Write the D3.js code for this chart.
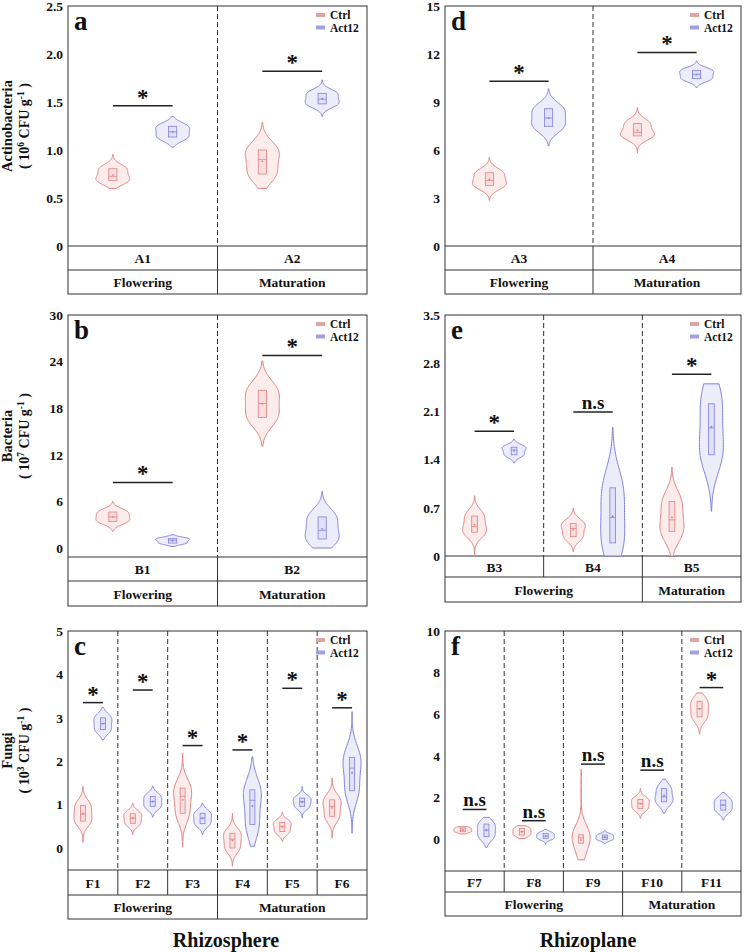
<!DOCTYPE html>
<html lang="en">
<head>
  <meta charset="UTF-8">
  <title>Violin plots</title>
  <script src="https://d3js.org/d3.v7.min.js"></script>
  <style>
    body { margin: 0; background: #fff; }
    text { font-family: "Liberation Serif", "Times New Roman", serif; font-weight: bold; fill: #111; }
  </style>
</head>
<body>
<script>
// ---- data ----
// each violin: 5 replicate values [min, q1, median, q3, max], and the drawn range [lo, hi]
const aGroups = ["A1", "A2"];
const aStages = ["Flowering", "Maturation"];
const aStageSpans = [1, 1];
const aTicks = [0, 0.5, 1, 1.5, 2, 2.5];
const aTickLabels = ["0", "0.5", "1.0", "1.5", "2.0", "2.5"];
const aCtrl = [[0.67, 0.684, 0.726, 0.805, 0.81], [0.74, 0.75, 0.90, 1.0, 1.02]];
const aCtrlRange = [[0.60, 0.955], [0.60, 1.29]];
const aAct = [[1.12, 1.135, 1.19, 1.247, 1.25], [1.47, 1.48, 1.53, 1.59, 1.60]];
const aActRange = [[1.03, 1.35], [1.35, 1.73]];
const aSig = [1.46, 1.82];
const aSigLabel = ["*", "*"];

const dGroups = ["A3", "A4"];
const dStages = ["Flowering", "Maturation"];
const dStageSpans = [1, 1];
const dTicks = [0, 3, 6, 9, 12, 15];
const dTickLabels = ["0", "3", "6", "9", "12", "15"];
const dCtrl = [[3.75, 3.79, 4.1, 4.58, 4.6], [6.85, 6.88, 7.1, 7.65, 7.7]];
const dCtrlRange = [[2.85, 5.56], [5.81, 8.65]];
const dAct = [[7.4, 7.48, 8.0, 8.58, 8.6], [10.4, 10.46, 10.73, 10.98, 11.0]];
const dActRange = [[6.25, 9.83], [9.9, 11.56]];
const dSig = [10.3, 12.1];
const dSigLabel = ["*", "*"];

const bGroups = ["B1", "B2"];
const bStages = ["Flowering", "Maturation"];
const bStageSpans = [1, 1];
const bTicks = [0, 6, 12, 18, 24, 30];
const bTickLabels = ["0", "6", "12", "18", "24", "30"];
const bCtrl = [[3.4, 3.43, 4.0, 4.63, 4.7], [16.7, 16.8, 18.6, 20.3, 20.5]];
const bCtrlRange = [[2.14, 6.0], [13.1, 24.1]];
const bAct = [[0.6, 0.64, 1.0, 1.2, 1.25], [0.8, 1.16, 2.27, 4.0, 4.1]];
const bActRange = [[0.2, 1.7], [0, 7.3]];
const bSig = [8.44, 24.8];
const bSigLabel = ["*", "*"];

const eGroups = ["B3", "B4", "B5"];
const eStages = ["Flowering", "Maturation"];
const eStageSpans = [2, 1];
const eTicks = [0, 0.7, 1.4, 2.1, 2.8, 3.5];
const eTickLabels = ["0", "0.7", "1.4", "2.1", "2.8", "3.5"];
const eCtrl = [[0.33, 0.345, 0.43, 0.58, 0.6], [0.27, 0.28, 0.40, 0.47, 0.48], [0.33, 0.355, 0.525, 0.79, 0.8]];
const eCtrlRange = [[0.02, 0.875], [0.063, 0.695], [0, 1.29]];
const eAct = [[1.46, 1.47, 1.54, 1.58, 1.59], [0.15, 0.19, 0.56, 0.99, 1.0], [1.45, 1.47, 1.86, 2.21, 2.4]];
const eActRange = [[1.35, 1.70], [0, 1.87], [0.65, 2.50]];
const eSig = [1.81, 2.09, 2.64];
const eSigLabel = ["*", "n.s", "*"];

const cGroups = ["F1", "F2", "F3", "F4", "F5", "F6"];
const cStages = ["Flowering", "Maturation"];
const cStageSpans = [3, 3];
const cTicks = [0, 1, 2, 3, 4, 5];
const cTickLabels = ["0", "1", "2", "3", "4", "5"];
const cCtrl = [[0.6, 0.62, 0.78, 0.98, 1.0], [0.55, 0.57, 0.69, 0.79, 0.8], [0.78, 0.80, 1.19, 1.38, 1.4],
               [-0.02, 0.0, 0.2, 0.34, 0.36], [0.36, 0.38, 0.5, 0.59, 0.6], [0.7, 0.73, 0.96, 1.11, 1.13]];
const cCtrlRange = [[0.13, 1.42], [0.31, 1.03], [0.02, 2.18], [-0.42, 0.80], [0.15, 0.83], [0.23, 1.61]];
const cAct = [[2.7, 2.73, 2.87, 3.0, 3.02], [0.94, 0.96, 1.07, 1.19, 1.2], [0.55, 0.56, 0.69, 0.80, 0.81],
              [0.5, 0.54, 1.1, 1.34, 1.36], [0.94, 0.96, 1.07, 1.15, 1.16], [1.3, 1.32, 1.84, 2.09, 2.12]];
const cActRange = [[2.5, 3.24], [0.71, 1.43], [0.31, 1.03], [0.04, 2.1], [0.69, 1.42], [0.34, 3.14]];
const cSig = [3.35, 3.64, 2.36, 2.26, 3.68, 3.23];
const cSigLabel = ["*", "*", "*", "*", "*", "*"];

const fGroups = ["F7", "F8", "F9", "F10", "F11"];
const fStages = ["Flowering", "Maturation"];
const fStageSpans = [3, 2];
const fTicks = [0, 2, 4, 6, 8, 10];
const fTickLabels = ["0", "2", "4", "6", "8", "10"];
const fCtrl = [[0.34, 0.35, 0.43, 0.53, 0.54], [0.18, 0.19, 0.35, 0.51, 0.52], [-0.8, -0.2, 0.06, 0.2, 0.5],
               [1.45, 1.47, 1.71, 1.9, 1.92], [5.85, 5.87, 6.27, 6.62, 6.64]];
const fCtrlRange = [[0.24, 0.59], [0.02, 0.64], [-1.0, 3.34], [0.99, 2.43], [5.04, 7.02]];
const fAct = [[0.1, 0.11, 0.43, 0.72, 0.74], [0.02, 0.03, 0.14, 0.27, 0.28], [-0.03, -0.02, 0.08, 0.19, 0.2],
              [1.77, 1.79, 2.03, 2.43, 2.45], [1.37, 1.39, 1.63, 1.87, 1.89]];
const fActRange = [[-0.4, 1.04], [-0.26, 0.46], [-0.24, 0.4], [1.23, 2.88], [0.91, 2.24]];
const fSig = [1.42, 0.88, 3.6, 3.31, 7.28];
const fSigLabel = ["n.s", "n.s", "n.s", "n.s", "*"];

const treatments = ["Ctrl", "Act12"];
const colors = { Ctrl: { line: "#e08080", fill: "#fcecec", key: "#e3a3a3" },
                 Act12: { line: "#8080dc", fill: "#ededfa", key: "#a0a0e2" } };

// ---- layout ----
const panels = [
  { letter: "a", x0: 68, x1: 367, top: 6, zeroY: 246, plotBottom: 246, row1: 270, row2: 294, hw: 17,
    title: ["Actinobacteria", "6"], groups: aGroups, stages: aStages, spans: aStageSpans, ticks: aTicks, tickLabels: aTickLabels,
    ctrl: aCtrl, ctrlRange: aCtrlRange, act: aAct, actRange: aActRange, sig: aSig, sigLabel: aSigLabel },
  { letter: "d", x0: 445, x1: 741, top: 6, zeroY: 246, plotBottom: 246, row1: 270, row2: 294, hw: 17,
    groups: dGroups, stages: dStages, spans: dStageSpans, ticks: dTicks, tickLabels: dTickLabels,
    ctrl: dCtrl, ctrlRange: dCtrlRange, act: dAct, actRange: dActRange, sig: dSig, sigLabel: dSigLabel },
  { letter: "b", x0: 68, x1: 367, top: 315, zeroY: 548, plotBottom: 557, row1: 581, row2: 606, hw: 17,
    title: ["Bacteria", "7"], groups: bGroups, stages: bStages, spans: bStageSpans, ticks: bTicks, tickLabels: bTickLabels,
    ctrl: bCtrl, ctrlRange: bCtrlRange, act: bAct, actRange: bActRange, sig: bSig, sigLabel: bSigLabel },
  { letter: "e", x0: 445, x1: 741, top: 315, zeroY: 556, plotBottom: 556, row1: 577, row2: 602, hw: 12,
    groups: eGroups, stages: eStages, spans: eStageSpans, ticks: eTicks, tickLabels: eTickLabels,
    ctrl: eCtrl, ctrlRange: eCtrlRange, act: eAct, actRange: eActRange, sig: eSig, sigLabel: eSigLabel },
  { letter: "c", x0: 68, x1: 367, top: 631, zeroY: 848, plotBottom: 870, row1: 895, row2: 919, hw: 9,
    title: ["Fungi", "3"], groups: cGroups, stages: cStages, spans: cStageSpans, ticks: cTicks, tickLabels: cTickLabels,
    ctrl: cCtrl, ctrlRange: cCtrlRange, act: cAct, actRange: cActRange, sig: cSig, sigLabel: cSigLabel },
  { letter: "f", x0: 445, x1: 741, top: 631, zeroY: 839, plotBottom: 871, row1: 892, row2: 916, hw: 9,
    groups: fGroups, stages: fStages, spans: fStageSpans, ticks: fTicks, tickLabels: fTickLabels,
    ctrl: fCtrl, ctrlRange: fCtrlRange, act: fAct, actRange: fActRange, sig: fSig, sigLabel: fSigLabel }
];

const svg = d3.select("body").append("svg")
  .attr("width", 744).attr("height", 952);

// gaussian kernel density over the drawn range
function density(samples, lo, hi) {
  const s = samples.slice().sort(d3.ascending);
  const bw = Math.max((hi - lo) / 9, (d3.quantile(s, 0.75) - d3.quantile(s, 0.25)) / 2.5);
  return d3.range(81).map(i => {
    const v = lo + (hi - lo) * i / 80;
    return [v, d3.mean(s, d => Math.exp(-0.5 * ((v - d) / bw) ** 2))];
  });
}

panels.forEach(p => {
  const g = svg.append("g");
  const y = d3.scaleLinear().domain([0, p.ticks[p.ticks.length - 1]]).range([p.zeroY, p.top]);
  const x = d3.scaleBand().domain(p.groups).range([p.x0, p.x1]);
  const inner = d3.scalePoint().domain(treatments).range([0, x.bandwidth()]).padding(0.75);

  // y axis labels
  const ax = g.append("g").attr("transform", `translate(${p.x0},0)`)
    .call(d3.axisLeft(y).tickValues(p.ticks).tickSize(0).tickPadding(5)
      .tickFormat((d, i) => p.tickLabels[i]));
  ax.select(".domain").remove();
  ax.selectAll("text").attr("font-size", 13.5).style("font-family", "Liberation Serif").style("font-weight", "bold");

  // dashed column dividers inside plot area
  p.groups.slice(1).forEach(grp => {
    g.append("line").attr("x1", x(grp)).attr("x2", x(grp))
      .attr("y1", p.top).attr("y2", p.plotBottom)
      .attr("stroke", "#333").attr("stroke-dasharray", "5,3");
    g.append("line").attr("x1", x(grp)).attr("x2", x(grp))
      .attr("y1", p.plotBottom).attr("y2", p.row1).attr("stroke", "#333");
  });
  // stage labels and dividers in bottom row
  let acc = 0;
  p.stages.forEach((st, i) => {
    const gs = p.groups[acc], ge = p.groups[acc + p.spans[i] - 1];
    const sx0 = x(gs), sx1 = x(ge) + x.bandwidth();
    g.append("text").attr("x", (sx0 + sx1) / 2).attr("y", (p.row1 + p.row2) / 2 + 5)
      .attr("text-anchor", "middle").attr("font-size", 13.5).text(st);
    if (i > 0) g.append("line").attr("x1", sx0).attr("x2", sx0)
      .attr("y1", p.row1).attr("y2", p.row2).attr("stroke", "#333");
    acc += p.spans[i];
  });
  // group labels
  g.selectAll(".grp").data(p.groups).join("text")
    .attr("x", d => x(d) + x.bandwidth() / 2).attr("y", (p.plotBottom + p.row1) / 2 + 5)
    .attr("text-anchor", "middle").attr("font-size", 13.5).text(d => d);

  // frame and row lines
  g.append("rect").attr("x", p.x0).attr("y", p.top).attr("width", p.x1 - p.x0).attr("height", p.row2 - p.top)
    .attr("fill", "none").attr("stroke", "#333");
  [p.plotBottom, p.row1].forEach(yy => g.append("line").attr("x1", p.x0).attr("x2", p.x1)
    .attr("y1", yy).attr("y2", yy).attr("stroke", "#333"));

  // violins
  const drawViolin = (samples, range, cx, tr) => {
    const dens = density(samples, range[0], range[1]);
    const dmax = d3.max(dens, d => d[1]);
    const w = d3.scaleLinear().domain([0, dmax]).range([0, p.hw]);
    const area = d3.area().x0(d => cx - w(d[1])).x1(d => cx + w(d[1])).y(d => y(d[0]));
    g.append("path").attr("d", area(dens)).attr("fill", colors[tr].fill)
      .attr("stroke", colors[tr].line).attr("stroke-width", 1);
    const s = samples.slice().sort(d3.ascending);
    const q1 = d3.quantile(s, 0.25), med = d3.quantile(s, 0.5), q3 = d3.quantile(s, 0.75);
    const bh = Math.max(2.5, p.hw * 0.24);
    g.append("rect").attr("x", cx - bh).attr("y", y(q3)).attr("width", bh * 2)
      .attr("height", Math.max(0.5, y(q1) - y(q3)))
      .attr("fill", colors[tr].line).attr("fill-opacity", 0.12)
      .attr("stroke", colors[tr].line).attr("stroke-width", 0.8);
    g.append("line").attr("x1", cx - bh).attr("x2", cx + bh).attr("y1", y(med)).attr("y2", y(med))
      .attr("stroke", colors[tr].line).attr("stroke-width", 0.8);
    g.append("circle").attr("cx", cx).attr("cy", y(d3.mean(s))).attr("r", 0.9).attr("fill", colors[tr].line);
  };
  p.groups.forEach((grp, i) => {
    drawViolin(p.ctrl[i], p.ctrlRange[i], x(grp) + inner("Ctrl"), "Ctrl");
    drawViolin(p.act[i], p.actRange[i], x(grp) + inner("Act12"), "Act12");
    // significance bar
    const sx0 = x(grp) + inner("Ctrl"), sx1 = x(grp) + inner("Act12"), sy = y(p.sig[i]);
    g.append("line").attr("x1", sx0).attr("x2", sx1).attr("y1", sy).attr("y2", sy)
      .attr("stroke", "#222").attr("stroke-width", 1.5);
    const star = p.sigLabel[i] === "*";
    g.append("text").attr("x", (sx0 + sx1) / 2).attr("y", star ? sy - 1 : sy - 3)
      .attr("text-anchor", "middle").attr("font-size", star ? 23 : 19).text(p.sigLabel[i]);
  });

  // panel letter
  g.append("text").attr("x", p.x0 + 6).attr("y", p.top + 24).attr("font-size", 27).text(p.letter);

  // legend
  treatments.forEach((tr, i) => {
    g.append("rect").attr("x", p.x1 - 51).attr("y", p.top + 7 + i * 12.5).attr("width", 9).attr("height", 4)
      .attr("fill", colors[tr].key);
    g.append("text").attr("x", p.x1 - 37).attr("y", p.top + 13 + i * 12.5).attr("font-size", 11.5).text(tr);
  });

  // y axis title
  if (p.title) {
    const cy = (p.top + p.plotBottom) / 2;
    g.append("text").attr("transform", `translate(12,${cy}) rotate(-90)`)
      .attr("text-anchor", "middle").attr("font-size", 14.5).text(p.title[0]);
    const t2 = g.append("text").attr("transform", `translate(29,${cy}) rotate(-90)`)
      .attr("text-anchor", "middle").attr("font-size", 14);
    t2.append("tspan").text("( 10");
    t2.append("tspan").attr("dy", -5).attr("font-size", 9.5).text(p.title[1]);
    t2.append("tspan").attr("dy", 5).text(" CFU g");
    t2.append("tspan").attr("dy", -5).attr("font-size", 9.5).text("-1");
    t2.append("tspan").attr("dy", 5).text(" )");
  }
});

// bottom titles
svg.append("text").attr("x", 226).attr("y", 947).attr("text-anchor", "middle").attr("font-size", 20).text("Rhizosphere");
svg.append("text").attr("x", 588).attr("y", 947).attr("text-anchor", "middle").attr("font-size", 20).text("Rhizoplane");
</script>
</body>
</html>
